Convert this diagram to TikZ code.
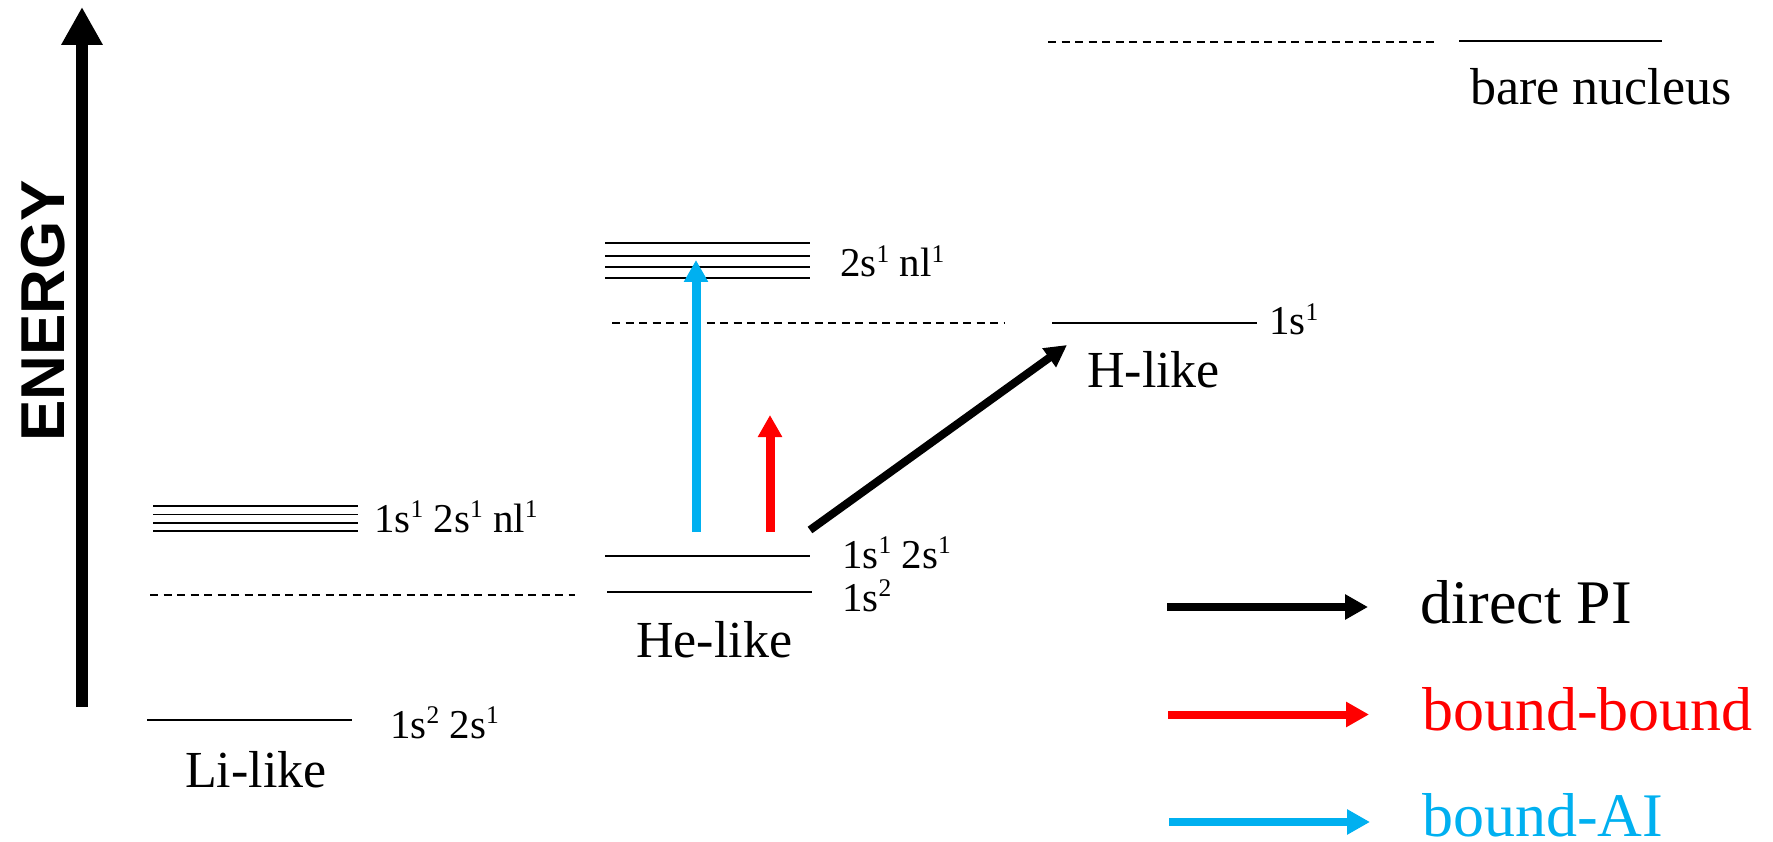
\documentclass[tikz,border=0pt]{standalone}
\usepackage{fontspec}
\usepackage{graphicx}
\setmainfont{Liberation Serif}
\newfontfamily\arialfont{Liberation Sans}
\usetikzlibrary{arrows.meta}
\definecolor{aiblue}{RGB}{0,176,240}
\definecolor{bbred}{RGB}{255,0,0}
\newcommand{\su}[1]{\raisebox{0.36em}{\scalebox{0.62}{#1}}}
\tikzset{
  lvl/.style={line width=1.8pt},
  dsh/.style={line width=1.6pt, dash pattern=on 8pt off 5.5pt},
  ttl/.style={font=\fontsize{52}{60}\selectfont, anchor=base west, inner sep=0pt},
  lab/.style={font=\fontsize{41}{48}\selectfont, anchor=base west, inner sep=0pt},
  leg/.style={font=\fontsize{62}{70}\selectfont, anchor=base west, inner sep=0pt},
  thick arrow/.style={line width=9pt, -{Triangle[width=23pt,length=22pt]}},
  pi arrow/.style={line width=8pt, -{Triangle[width=22pt,length=22pt]}},
  leg arrow/.style={line width=8pt, -{Triangle[width=24pt,length=23pt]}}
}
\begin{document}
\begin{tikzpicture}[x=1pt,y=-1pt]
\useasboundingbox (0,0) rectangle (1773,842);

% energy axis
\coordinate (eBot) at (82,707);
\coordinate (eTop) at (82,7);
\draw[line width=12pt, -{Triangle[width=39pt,length=38pt]}] (eBot) -- (eTop);
\node[font=\arialfont\bfseries\fontsize{62}{70}\selectfont, rotate=90, inner sep=0pt] (energy) at (43,311) {ENERGY};

% Li-like
\foreach \yy in {506,514.5,523,531} \draw[lvl] (153,\yy) -- (358,\yy);
\draw[dsh] (150,595) -- (575,595);
\draw[lvl] (147,720) -- (352,720);
\node[lab] (liExc) at (374,532) {1s\su{1} 2s\su{1} nl\su{1}};
\node[lab] (liGnd) at (390,738) {1s\su{2} 2s\su{1}};
\node[ttl] (li) at (185,787) {Li-like};

% He-like
\foreach \yy in {243,256,267,278} \draw[lvl] (605,\yy) -- (810,\yy);
\draw[dsh] (612,323) -- (1005,323);
\draw[lvl] (605,556) -- (810,556);
\draw[lvl] (607,592) -- (812,592);
\node[lab] (heExc) at (840,277) {2s\su{1} nl\su{1}};
\node[lab] (heMid) at (842,568) {1s\su{1} 2s\su{1}};
\node[lab] (heGnd) at (842,611) {1s\su{2}};
\node[ttl] (he) at (636,657) {He-like};

% H-like
\draw[lvl] (1052,323) -- (1257,323);
\node[lab] (hGnd) at (1269,335) {1s\su{1}};
\node[ttl] (h) at (1087,388) {H-like};

% bare nucleus
\draw[dsh] (1048,42) -- (1436,42);
\draw[lvl] (1459,41) -- (1662,41);
\node[ttl] (bare) at (1470,105) {bare nucleus};

% transitions
\coordinate (aiS) at (696,532);
\coordinate (aiE) at (696,260);
\coordinate (bbS) at (770,532);
\coordinate (bbE) at (770,415);
\coordinate (piS) at (810,530);
\coordinate (piE) at (1067,345);
\draw[thick arrow, aiblue] (aiS) -- (aiE);
\draw[thick arrow, bbred] (bbS) -- (bbE);
\draw[pi arrow, black] (piS) -- (piE);

% legend
\coordinate (l1s) at (1167,607);
\coordinate (l1e) at (1368,607);
\coordinate (l2s) at (1168,714.5);
\coordinate (l2e) at (1369,714.5);
\coordinate (l3s) at (1169,822);
\coordinate (l3e) at (1370,822);
\draw[leg arrow, black] (l1s) -- (l1e);
\draw[leg arrow, bbred] (l2s) -- (l2e);
\draw[leg arrow, aiblue] (l3s) -- (l3e);
\node[leg] (t1) at (1420,623) {direct PI};
\node[leg, text=bbred] (t2) at (1422,730) {bound-bound};
\node[leg, text=aiblue] (t3) at (1422,836) {bound-AI};
\end{tikzpicture}
\end{document}
